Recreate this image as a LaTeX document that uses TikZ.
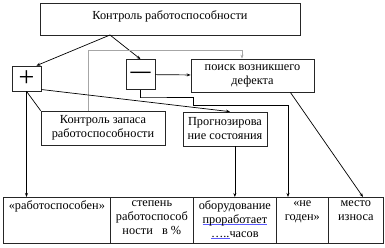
\documentclass[tikz,border=0pt]{standalone}
\usepackage{fontspec}
\setmainfont{Liberation Serif}
\usetikzlibrary{calc, positioning}
\usetikzlibrary{arrows.meta}

\newsavebox{\ulbox}
\newcommand{\blueul}[1]{\sbox{\ulbox}{#1}\rlap{\textcolor{blue!65}{\rule[-2pt]{\wd\ulbox}{0.6pt}}}\usebox{\ulbox}}

\tikzset{
  box/.style={draw=black!85, line width=0.7pt, inner sep=0pt, align=center},
  cell/.style={draw=black!85, line width=0.7pt, anchor=north west, minimum height=46pt, inner sep=0pt},
  celltext/.style={anchor=north, align=center, inner sep=0pt, yshift=-3pt},
  link/.style={line width=0.7pt, -{Stealth[length=4pt, width=3pt]}},
}

\begin{document}
\begin{tikzpicture}[x=1pt, y=-1pt, font=\fontsize{12.3}{14}\selectfont]
\useasboundingbox (0,0) rectangle (385,247);

% top block
\node[box, minimum width=260pt, minimum height=32pt,
  label={[anchor=north, yshift=-5pt]north:Контроль работоспособности}] (ctrl) at (170,19) {};
\coordinate (split) at (110,35);

\node[box, minimum width=29pt, minimum height=25pt, font=\fontsize{28}{28}\selectfont] (plus) at (26.5,78.5) {+};
\node[box, minimum width=29pt, minimum height=30pt, font=\fontsize{20}{20}\selectfont\bfseries] (minus) at (140.5,74.5) {—};
\node[box, minimum width=123pt, minimum height=33pt] (search) at (252.5,75.5) {поиск возникшего\\дефекта};

\node[box, minimum width=124pt, minimum height=34pt] (reserve) at (103,128) {Контроль запаса\\работоспособности};
\node[box, minimum width=84pt, minimum height=34pt] (forecast) at (225,129) {Прогнозирова\\ние состояния};

% bottom table
\node[cell, minimum width=107pt] (c1) at (3,197) {};
\node[cell, minimum width=83pt] (c2) at (110,197) {};
\node[cell, minimum width=83pt] (c3) at (193,197) {};
\node[cell, minimum width=52pt] (c4) at (276,197) {};
\node[cell, minimum width=55pt] (c5) at (328,197) {};

\node[celltext] at (c1.north) {«работоспособен»};
\node[celltext] at (c2.north) {степень\\работоспособ\\ности\ \ \ в \%};
\node[celltext] at (c3.north) {оборудование\\\blueul{проработает}\\\blueul{…..}часов};
\node[celltext] at (c4.north) {«не\\годен»};
\node[celltext] at (c5.north) {место\\износа};

% connectors
\coordinate (gray1) at (88,50);
\coordinate (gray2) at (242,50);
\coordinate (m1) at (141,97);
\coordinate (m2) at (193,97);
\coordinate (m3) at (193,105);
\coordinate (m4) at (288,105);
\coordinate (wear) at (363,197);

\draw[link] (split) -- ($(plus.north east)+(-5,0)$);
\draw[link] (split) -- (minus.north);
\draw[line width=0.7pt, black!35, -{Stealth[length=4pt, width=3pt]}] (gray1 |- reserve.north) -- (gray1) -- (gray2) -- (gray2 |- search.north);
\draw[link] (minus) -- (search);
\draw[link] (minus.south) |- (m1) -- (m2) -- (m3) -- (m4) -- (m4 |- c4.north);
\draw[link] ($(plus.east)+(0,11)$) -- ($(forecast.north)+(5,0)$);
\draw[link] (plus.south) -- (plus.south |- c1.north);
\draw[line width=0.7pt] (plus.south) -- (reserve.north west);
\draw[link] ($(search.south east)+(-24,0)$) -- (wear);
\draw[link] (c3.north |- forecast.south) -- (c3.north);
\end{tikzpicture}
\end{document}
